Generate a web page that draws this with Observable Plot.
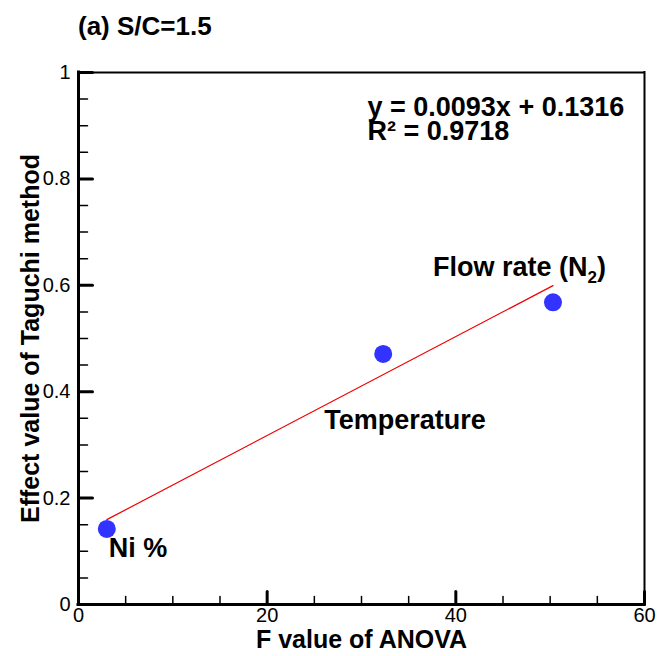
<!DOCTYPE html>
<html>
<head>
<meta charset="utf-8">
<script src="https://cdn.jsdelivr.net/npm/d3@7"></script>
<script src="https://cdn.jsdelivr.net/npm/@observablehq/plot@0.6"></script>
<style>
  html, body { margin: 0; padding: 0; background: #fff; }
  #title { height: 48px; box-sizing: border-box; padding-top: 13px; padding-left: 78px;
           font: bold 26px "Liberation Sans", Arial, sans-serif; line-height: 26px; color: #000; }
  #chart svg { display: block; }
</style>
</head>
<body>
<div id="title">(a) S/C=1.5</div>
<div id="chart"></div>
<script>
// ---- data ----
const factors = ["Ni %", "Temperature", "Flow rate (N2)"];
const fValues = [3.0, 32.3, 50.3];
const effectValues = [0.142, 0.471, 0.568];
const slope = 0.0093;
const intercept = 0.1316;
const rSquared = 0.9718;
const fitRange = [3.0, 50.3];
const xMajorTicks = [0, 20, 40, 60];
const xMinorTicks = [5, 10, 15, 25, 30, 35, 45, 50, 55];
const yMajorTicks = [0, 0.2, 0.4, 0.6, 0.8, 1];
const yMinorTicks = [0.05, 0.1, 0.15, 0.25, 0.3, 0.35, 0.45, 0.5, 0.55, 0.65, 0.7, 0.75, 0.85, 0.9, 0.95];
const xLabel = "F value of ANOVA";
const yLabel = "Effect value of Taguchi method";

// ---- derived tables ----
const points = factors.map((f, i) => ({factor: f, F: fValues[i], E: effectValues[i]}));
const fit = fitRange.map(x => ({F: x, E: slope * x + intercept}));
const eqLines = [`y = ${slope}x + ${intercept}`, `R² = ${rSquared}`];

const tickShape = {draw(ctx, l) { ctx.moveTo(0, 0); ctx.lineTo(0, -l); }};
const FONT = "Liberation Sans, Arial, sans-serif";

const labelOffsets = {
  "Ni %": {dx: 2, dy: 28},
  "Temperature": {dx: -59, dy: 75},
  "Flow rate (N2)": {dx: -120, dy: -26}
};

const chart = Plot.plot({
  width: 658,
  height: 608,
  marginTop: 24,
  marginBottom: 52,
  marginLeft: 78,
  marginRight: 14,
  style: {fontFamily: FONT, fontSize: "20px", background: "white", color: "black", overflow: "visible"},
  x: {domain: [0, 60]},
  y: {domain: [0, 1]},
  marks: [
    // tick labels
    Plot.axisX({ticks: xMajorTicks, tickSize: 0, tickPadding: 3, label: null, fontSize: 20, tickFormat: d => String(d)}),
    Plot.axisY({ticks: yMajorTicks, tickSize: 0, tickPadding: 8, label: null, fontSize: 20, tickFormat: d => String(d)}),
    // inward ticks
    Plot.vector(xMajorTicks, {x: d => d, y: 0, length: 13, rotate: 0, anchor: "start", shape: tickShape, stroke: "black", strokeWidth: 3}),
    Plot.vector(xMinorTicks, {x: d => d, y: 0, length: 8, rotate: 0, anchor: "start", shape: tickShape, stroke: "black", strokeWidth: 1.5}),
    Plot.vector(yMajorTicks, {x: 0, y: d => d, length: 14, rotate: 90, anchor: "start", shape: tickShape, stroke: "black", strokeWidth: 3}),
    Plot.vector(yMinorTicks, {x: 0, y: d => d, length: 9, rotate: 90, anchor: "start", shape: tickShape, stroke: "black", strokeWidth: 1.5}),
    // frame
    Plot.ruleY([1], {stroke: "black", strokeWidth: 2, strokeLinecap: "square"}),
    Plot.ruleX([60], {stroke: "black", strokeWidth: 2, strokeLinecap: "square"}),
    Plot.ruleX([0], {stroke: "black", strokeWidth: 3, strokeLinecap: "square"}),
    Plot.ruleY([0], {stroke: "black", strokeWidth: 3, strokeLinecap: "square"}),
    // fit line
    Plot.line(fit, {x: "F", y: "E", stroke: "#ee0000", strokeWidth: 1.2}),
    // points
    Plot.dot(points, {x: "F", y: "E", r: 9, fill: "#3333ff", stroke: "none"}),
    // point labels
    ...factors.map(f => Plot.text(points.filter(p => p.factor === f), {
      x: "F", y: "E", text: "factor", textAnchor: "start", lineAnchor: "bottom",
      dx: labelOffsets[f].dx, dy: labelOffsets[f].dy,
      fontSize: 27, fontWeight: "bold", fill: "black"
    })),
    // equation
    Plot.text([eqLines.join("\n")], {frameAnchor: "top-left", dx: 289, dy: 26, textAnchor: "start", lineAnchor: "top",
      lineHeight: 0.9, fontSize: 27, fontWeight: "bold", fill: "black"}),
    // axis titles
    Plot.text([xLabel], {frameAnchor: "bottom", dy: 43, textAnchor: "middle", lineAnchor: "bottom", fontSize: 25, fontWeight: "bold", fill: "black"}),
    Plot.text([yLabel], {frameAnchor: "left", dx: -48, rotate: -90, textAnchor: "middle", lineAnchor: "middle", fontSize: 25, fontWeight: "bold", fill: "black"})
  ]
});

// subscript for N2
chart.querySelectorAll("text").forEach(t => {
  if (t.textContent === "Flow rate (N2)") {
    t.textContent = "";
    const ns = "http://www.w3.org/2000/svg";
    const a = document.createElementNS(ns, "tspan"); a.textContent = "Flow rate (N";
    const b = document.createElementNS(ns, "tspan"); b.textContent = "2"; b.setAttribute("font-size", "17"); b.setAttribute("dy", "7");
    const c = document.createElementNS(ns, "tspan"); c.textContent = ")"; c.setAttribute("dy", "-7");
    t.append(a, b, c);
  }
});

document.getElementById("chart").append(chart);
</script>
</body>
</html>
